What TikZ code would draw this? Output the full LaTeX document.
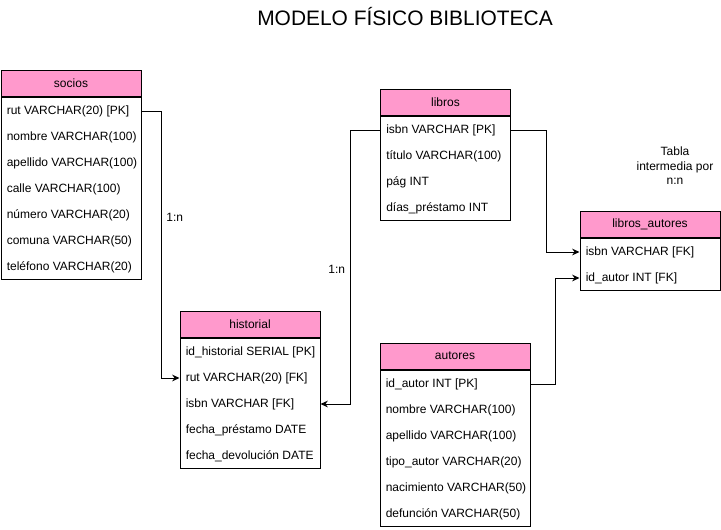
\documentclass[tikz,border=0pt]{standalone}
\usepackage{fontspec}
\setmainfont{Liberation Sans}
\usetikzlibrary{arrows.meta,positioning,calc}
\definecolor{headpink}{RGB}{255,153,204}

\begin{document}
\begin{tikzpicture}[
    x=0.75pt, y=-0.75pt,
    head/.style={rectangle, draw, line width=0.75pt, fill=headpink, minimum height=19.5pt, inner sep=0pt, font=\fontsize{9}{11}\selectfont},
    body/.style={rectangle, draw, line width=0.75pt, fill=white, inner sep=0pt, below=0pt of #1},
    field/.style={anchor=west, inner xsep=4.5pt, inner ysep=0pt, font=\fontsize{9}{11}\selectfont},
    link/.style={-{Stealth[length=5.5pt,width=5pt]}, line width=0.75pt},
    note/.style={font=\fontsize{9}{10.9}\selectfont, align=center}
]
\useasboundingbox (0,0) rectangle (721,529);

% Title
\node[font=\fontsize{15.7}{18}\selectfont] (title) at (405,17) {MODELO FÍSICO BIBLIOTECA};

% socios
\node[head, minimum width=105pt] (soc) at (71,83) {socios};
\node[body=soc, minimum width=105pt, minimum height=136.5pt] (socB) {};
\foreach \txt [count=\i] in {rut VARCHAR(20) [PK], nombre VARCHAR(100), apellido VARCHAR(100), calle VARCHAR(100), número VARCHAR(20), comuna VARCHAR(50), teléfono VARCHAR(20)}
    \node[field] (soc\i) at ($(socB.north west)+(0,26*\i-11.5)$) {\txt};

% historial
\node[head, minimum width=105pt] (his) at (250,324) {historial};
\node[body=his, minimum width=105pt, minimum height=97.5pt] (hisB) {};
\foreach \txt [count=\i] in {id\_historial SERIAL [PK], rut VARCHAR(20) [FK], isbn VARCHAR [FK], fecha\_préstamo DATE, fecha\_devolución DATE}
    \node[field] (his\i) at ($(hisB.north west)+(0,26*\i-11.5)$) {\txt};

% libros
\node[head, minimum width=97.5pt] (lib) at (445.5,102) {libros};
\node[body=lib, minimum width=97.5pt, minimum height=78pt] (libB) {};
\foreach \txt [count=\i] in {isbn VARCHAR [PK], título VARCHAR(100), pág INT, días\_préstamo INT}
    \node[field] (lib\i) at ($(libB.north west)+(0,26*\i-11.5)$) {\txt};

% libros_autores
\node[head, minimum width=105pt] (lau) at (650,224) {libros\_autores};
\node[body=lau, minimum width=105pt, minimum height=39pt] (lauB) {};
\foreach \txt [count=\i] in {isbn VARCHAR [FK], id\_autor INT [FK]}
    \node[field] (lau\i) at ($(lauB.north west)+(0,26*\i-11.5)$) {\txt};

% autores
\node[head, minimum width=112.5pt] (aut) at (455,356) {autores};
\node[body=aut, minimum width=112.5pt, minimum height=117pt] (autB) {};
\foreach \txt [count=\i] in {id\_autor INT [PK], nombre VARCHAR(100), apellido VARCHAR(100), tipo\_autor VARCHAR(20), nacimiento VARCHAR(50), defunción VARCHAR(50)}
    \node[field] (aut\i) at ($(autB.north west)+(0,26*\i-11.5)$) {\txt};

% Note
\node[note] (nota) at (675,166) {Tabla\\intermedia por\\n:n};

% Relations
\draw[link] (socB.east |- soc1) -- ++(20,0) |- (hisB.west |- his2) node[note, pos=0.2, right] {1:n};
\draw[link] (libB.west |- lib1) -- ++(-30,0) |- (hisB.east |- his3) node[note, pos=0.255, left] {1:n};
\draw[link] (libB.east |- lib1) -- ++(35,0) |- (lauB.west |- lau1);
\draw[link] (autB.east |- aut1) -- ++(25,0) |- (lauB.west |- lau2);

\end{tikzpicture}
\end{document}
